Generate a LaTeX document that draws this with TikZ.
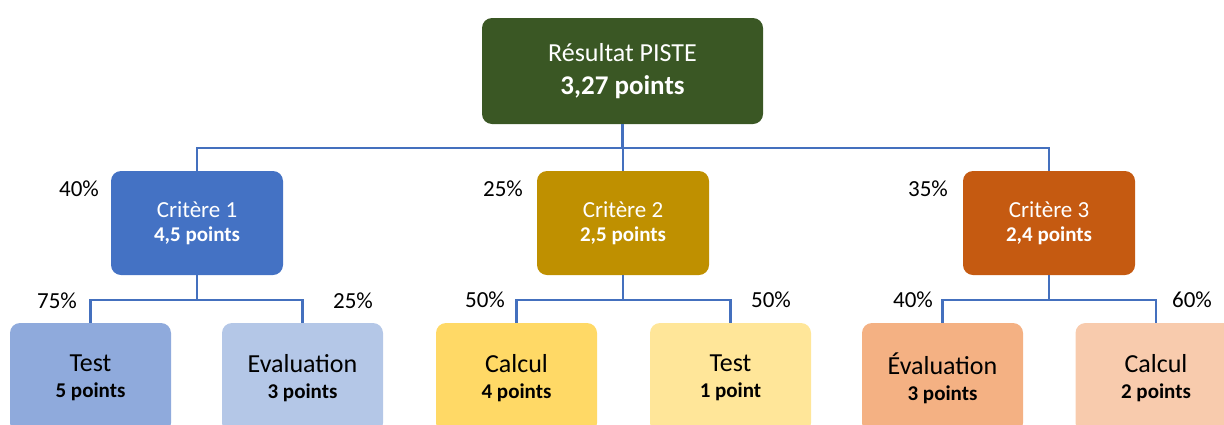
\documentclass[tikz,border=0pt]{standalone}
\usepackage{fontspec}
\setmainfont{Carlito}
\definecolor{linkblue}{HTML}{4470BE}
\definecolor{topgreen}{HTML}{3A5724}
\definecolor{critblue}{HTML}{4472C4}
\definecolor{critgold}{HTML}{BF9000}
\definecolor{critorange}{HTML}{C55A11}
\definecolor{leafblueA}{HTML}{8FAADC}
\definecolor{leafblueB}{HTML}{B4C7E7}
\definecolor{leafgoldA}{HTML}{FFD966}
\definecolor{leafgoldB}{HTML}{FFE699}
\definecolor{leaforangeA}{HTML}{F4B183}
\definecolor{leaforangeB}{HTML}{F8CBAD}
\begin{document}
\begin{tikzpicture}[x=1pt,y=-1pt,
  card/.style={rounded corners=10pt, inner sep=0pt, align=center},
  rootbox/.style={card, fill=topgreen, text=white, minimum width=281pt, minimum height=106pt,
    font=\fontsize{26}{33}\selectfont},
  critbox/.style={card, text=white, minimum width=172pt, minimum height=104pt,
    font=\fontsize{23}{24}\selectfont},
  leafbox/.style={card, text=black, minimum width=161pt, minimum height=110pt,
    font=\fontsize{26}{26}\selectfont},
  conn/.style={draw=linkblue, line width=2.5pt},
  pct/.style={inner sep=0pt, font=\fontsize{23}{23}\selectfont}
]
\useasboundingbox (0,0) rectangle (1224,424);
\clip (0,0) rectangle (1224,424);

% root
\node[rootbox] (root) at (622.5,71) {Résultat PISTE\\{\fontsize{27}{33}\selectfont\bfseries 3,27 points}};

% criteria
\node[critbox, fill=critblue]   (c1) at (197,223) {Critère 1\\{\fontsize{21}{24}\selectfont\bfseries 4,5 points}};
\node[critbox, fill=critgold]   (c2) at (623,223) {Critère 2\\{\fontsize{21}{24}\selectfont\bfseries 2,5 points}};
\node[critbox, fill=critorange] (c3) at (1049,223) {Critère 3\\{\fontsize{21}{24}\selectfont\bfseries 2,4 points}};

% leaves
\node[leafbox, fill=leafblueA]   (l1) at (90.5,378)  {Test\\{\fontsize{21}{26}\selectfont\bfseries 5 points}};
\node[leafbox, fill=leafblueB]   (l2) at (302.5,378) {Evaluation\\{\fontsize{21}{26}\selectfont\bfseries 3 points}};
\node[leafbox, fill=leafgoldA]   (l3) at (516.5,378) {Calcul\\{\fontsize{21}{26}\selectfont\bfseries 4 points}};
\node[leafbox, fill=leafgoldB]   (l4) at (730.5,378) {Test\\{\fontsize{21}{26}\selectfont\bfseries 1 point}};
\node[leafbox, fill=leaforangeA] (l5) at (942.5,378) {Évaluation\\{\fontsize{21}{26}\selectfont\bfseries 3 points}};
\node[leafbox, fill=leaforangeB] (l6) at (1156,378)  {Calcul\\{\fontsize{21}{26}\selectfont\bfseries 2 points}};

% junctions
\coordinate (j0) at (622.5,148);
\coordinate (j1) at (197,300);
\coordinate (j2) at (623,300);
\coordinate (j3) at (1049,300);

% connectors
\draw[conn] (root.south) -- (j0);
\draw[conn] (j0) -| (c1.north);
\draw[conn] (j0) -| (c2.north);
\draw[conn] (j0) -| (c3.north);
\draw[conn] (c1.south) -- (j1);
\draw[conn] (j1) -| (l1.north);
\draw[conn] (j1) -| (l2.north);
\draw[conn] (c2.south) -- (j2);
\draw[conn] (j2) -| (l3.north);
\draw[conn] (j2) -| (l4.north);
\draw[conn] (c3.south) -- (j3);
\draw[conn] (j3) -| (l5.north);
\draw[conn] (j3) -| (l6.north);

% weights
\node[pct] (w1) at (79,189)  {40\%};
\node[pct] (w2) at (503,189) {25\%};
\node[pct] (w3) at (928,189) {35\%};
\node[pct] (w11) at (57,301)   {75\%};
\node[pct] (w12) at (353,301)  {25\%};
\node[pct] (w21) at (485,300)  {50\%};
\node[pct] (w22) at (771,300)  {50\%};
\node[pct] (w31) at (913,300)  {40\%};
\node[pct] (w32) at (1192,300) {60\%};
\end{tikzpicture}
\end{document}
